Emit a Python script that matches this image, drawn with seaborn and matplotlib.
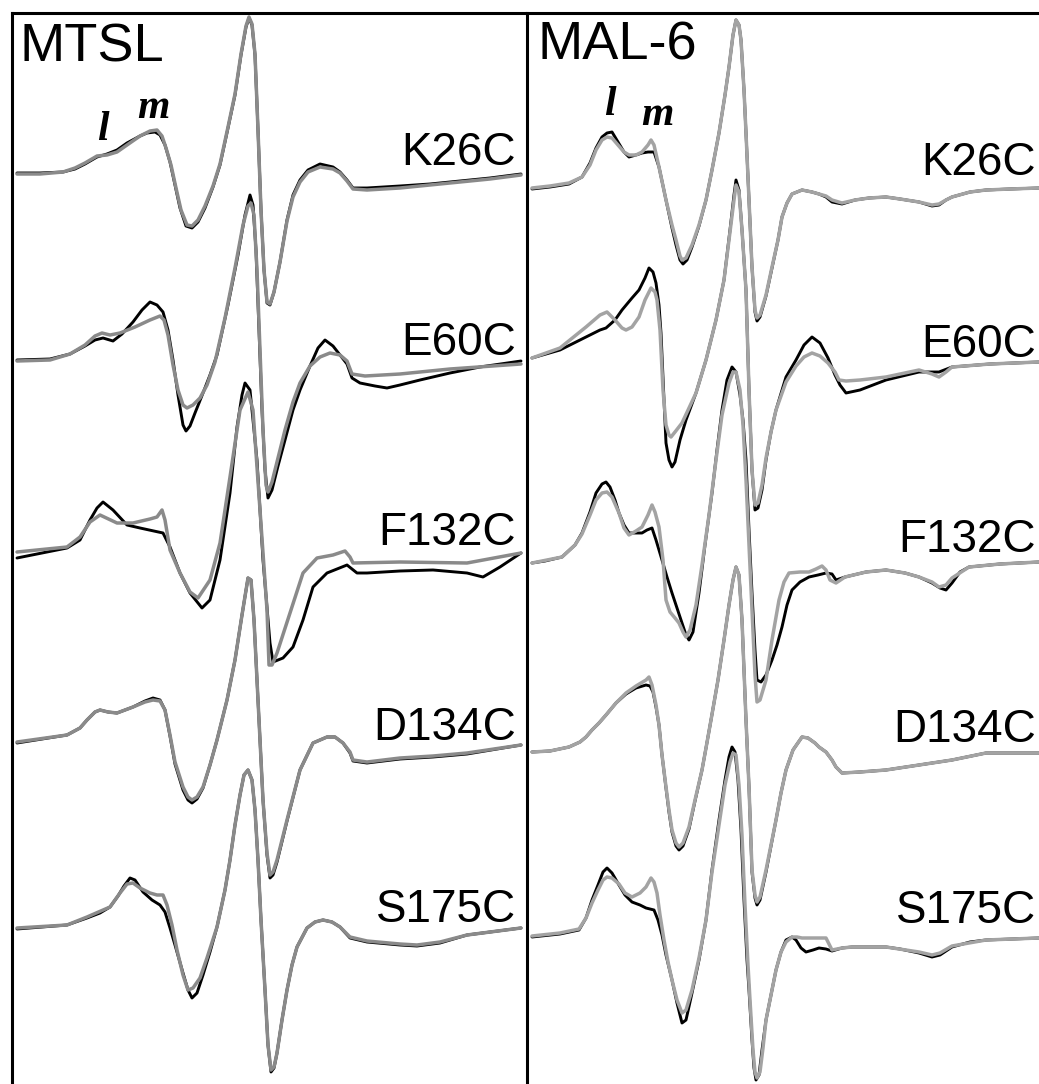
import matplotlib
matplotlib.use("Agg")
import matplotlib.pyplot as plt
import pandas as pd
import seaborn as sns

# ---------------------------------------------------------------------------
# EPR first-derivative spectra, (field, amplitude) pairs.
# "_a" = black trace, "_b" = grey trace.  Field in panel units, amplitude
# relative to each trace's own baseline.
# ---------------------------------------------------------------------------
mutants = ["K26C", "E60C", "F132C", "D134C", "S175C"]
panels = ["MTSL", "MAL-6"]

# ---------------- MTSL ----------------
mtsl_k26c_a = [(17,0),(40,0),(63,1),(75,4),(85,9),(97,16),(107,19),(117,23),(127,30),(140,37),(147,40),(155,41),(160,38),(165,28),(170,11),(175,-12),(180,-35),(186,-53),(192,-55),(198,-49),(205,-35),(213,-14),(220,8),(228,45),(235,78),(241,118),(246,146),(249,155),(252,148),(255,118),(258,43),(261,-37),(264,-97),(267,-130),(270,-132),(274,-119),(280,-89),(287,-47),(293,-22),(300,-7),(308,3),(320,9),(333,6),(340,1),(347,-7),(353,-15),(367,-15),(400,-13),(430,-11),(460,-8),(490,-5),(521,-1)]
mtsl_k26c_b = [(17,-1),(40,-1),(63,1),(75,5),(85,10),(97,17),(107,18),(117,21),(127,28),(140,37),(150,42),(157,43),(162,37),(166,25),(171,8),(176,-15),(181,-37),(187,-52),(192,-53),(198,-47),(205,-33),(213,-13),(220,9),(228,46),(235,79),(241,119),(246,147),(249,156),(252,149),(255,119),(258,43),(261,-37),(264,-97),(267,-129),(270,-131),(274,-119),(280,-89),(287,-48),(293,-24),(300,-9),(308,1),(320,6),(333,4),(340,0),(347,-8),(353,-16),(367,-17),(400,-15),(430,-12),(460,-9),(490,-6),(521,-2)]

mtsl_e60c_a = [(17,0),(50,1),(70,6),(85,14),(95,20),(103,22),(113,19),(122,26),(133,38),(142,50),(150,58),(157,55),(163,48),(168,30),(173,0),(178,-35),(183,-65),(186,-71),(190,-66),(195,-53),(203,-33),(210,-15),(217,5),(228,55),(238,105),(245,145),(250,165),(253,155),(256,110),(259,30),(262,-50),(265,-110),(268,-138),(272,-130),(278,-106),(285,-80),(293,-50),(300,-30),(310,-6),(318,12),(325,20),(333,14),(340,5),(347,-4),(352,-18),(360,-23),(375,-26),(387,-28),(400,-25),(420,-20),(450,-13),(480,-7),(521,-1)]
mtsl_e60c_b = [(17,-1),(50,0),(70,6),(85,15),(95,24),(102,27),(110,25),(120,27),(135,33),(150,40),(160,44),(164,40),(168,25),(173,-5),(178,-30),(183,-45),(187,-48),(193,-45),(200,-38),(207,-25),(215,-2),(225,42),(235,92),(243,135),(248,154),(251,157),(254,145),(257,90),(260,10),(263,-70),(266,-125),(268,-132),(272,-122),(278,-98),(285,-70),(293,-42),(300,-23),(310,-6),(320,3),(330,7),(340,5),(347,-1),(352,-14),(365,-16),(400,-14),(450,-9),(521,-4)]

mtsl_f132c_a = [(17,-1),(67,9),(80,17),(90,37),(97,49),(103,55),(113,47),(127,32),(140,29),(163,24),(170,10),(180,-16),(190,-36),(202,-51),(210,-43),(220,-3),(230,64),(237,130),(242,162),(245,174),(250,167),(257,97),(263,-3),(270,-86),(273,-105),(283,-101),(293,-90),(303,-63),(313,-30),(327,-16),(347,-8),(357,-16),(367,-16),(400,-14),(433,-13),(467,-16),(483,-20),(500,-10),(521,4)]
mtsl_f132c_b = [(17,5),(67,10),(80,20),(90,35),(100,42),(117,34),(133,34),(150,38),(157,40),(162,47),(165,37),(170,7),(180,-16),(190,-35),(198,-41),(210,-23),(220,14),(230,80),(240,147),(248,165),(253,147),(260,47),(267,-53),(269,-108),(272,-108),(277,-96),(290,-56),(303,-16),(317,-1),(333,2),(345,6),(350,0),(353,-6),(400,-5),(467,-6),(521,4)]

mtsl_d134c_a = [(17,-1),(67,7),(80,14),(87,22),(95,30),(100,32),(108,30),(117,29),(125,32),(133,35),(145,41),(153,44),(160,42),(165,32),(170,6),(175,-22),(183,-48),(188,-58),(192,-61),(197,-57),(203,-46),(210,-23),(217,2),(227,42),(235,82),(242,127),(248,164),(251,162),(254,122),(257,62),(260,2),(263,-58),(267,-113),(270,-136),(273,-133),(277,-120),(287,-79),(300,-28),(313,-1),(327,5),(335,5),(343,-1),(350,-11),(353,-19),(367,-21),(400,-17),(433,-15),(467,-12),(521,-3)]
mtsl_d134c_b = [(17,0),(67,7),(80,14),(87,22),(95,30),(100,32),(108,30),(117,29),(125,32),(133,35),(145,40),(153,42),(160,41),(165,32),(170,7),(175,-20),(183,-45),(188,-55),(192,-58),(197,-55),(203,-45),(210,-23),(217,2),(227,42),(235,82),(242,127),(248,164),(251,162),(254,122),(257,62),(260,2),(263,-58),(267,-111),(270,-133),(273,-130),(277,-118),(287,-78),(300,-28),(313,-1),(327,5),(335,5),(343,-1),(350,-10),(353,-18),(367,-20),(400,-16),(433,-14),(467,-11),(521,-3)]

mtsl_s175c_a = [(17,-1),(67,3),(87,10),(100,15),(110,21),(118,32),(124,42),(130,50),(135,48),(143,36),(152,28),(160,23),(165,16),(170,0),(175,-17),(183,-45),(188,-62),(192,-70),(197,-65),(203,-47),(210,-24),(217,1),(225,38),(230,68),(235,103),(240,133),(244,153),(248,158),(252,148),(255,118),(258,68),(261,8),(265,-62),(268,-117),(271,-144),(274,-140),(277,-125),(282,-92),(287,-62),(292,-37),(297,-19),(307,0),(315,6),(323,8),(332,6),(340,1),(350,-10),(367,-14),(400,-17),(417,-18),(440,-15),(467,-7),(521,0)]
mtsl_s175c_b = [(17,0),(67,3),(87,11),(110,21),(120,35),(127,44),(133,45),(140,40),(150,35),(157,33),(163,33),(167,23),(172,3),(177,-22),(183,-47),(188,-62),(193,-60),(200,-50),(207,-30),(217,1),(225,38),(230,68),(235,103),(240,133),(244,153),(248,158),(252,148),(255,118),(258,68),(261,8),(265,-62),(268,-117),(271,-142),(274,-139),(277,-125),(282,-92),(287,-62),(292,-37),(297,-19),(307,0),(315,6),(323,8),(332,6),(340,1),(350,-9),(367,-13),(400,-16),(417,-17),(440,-14),(467,-7),(521,0)]

# ---------------- MAL-6 ----------------
mal6_k26c_a = [(532,-1),(550,1),(569,4),(582,11),(590,25),(596,40),(602,51),(607,55),(612,56),(618,46),(624,36),(629,31),(636,33),(642,35),(648,36),(654,36),(659,21),(666,-12),(672,-40),(676,-57),(680,-72),(683,-76),(687,-72),(692,-59),(699,-38),(706,-12),(712,18),(719,55),(725,93),(729,121),(733,153),(736,168),(739,163),(741,148),(744,98),(746,55),(749,-12),(752,-79),(755,-124),(757,-133),(760,-129),(766,-108),(772,-80),(778,-52),(782,-29),(787,-15),(792,-6),(802,-2),(812,-4),(819,-6),(826,-9),(832,-14),(842,-16),(855,-12),(869,-10),(886,-9),(900,-11),(919,-14),(932,-18),(939,-17),(946,-12),(952,-9),(970,-4),(986,-2),(1010,-1),(1039,0)]
mal6_k26c_b = [(532,0),(550,2),(569,5),(582,11),(590,23),(596,38),(602,48),(607,51),(612,50),(618,43),(624,36),(629,33),(636,33),(642,36),(648,43),(651,48),(654,43),(659,21),(666,-12),(672,-37),(676,-52),(680,-68),(682,-72),(686,-70),(692,-57),(699,-37),(706,-12),(712,18),(719,55),(725,93),(729,121),(733,153),(736,168),(739,163),(741,148),(744,98),(746,55),(749,-12),(752,-79),(755,-122),(757,-130),(760,-127),(766,-107),(772,-79),(778,-52),(782,-29),(787,-15),(792,-6),(802,-2),(812,-4),(819,-6),(826,-8),(832,-12),(842,-15),(855,-12),(869,-10),(886,-9),(900,-11),(919,-14),(932,-17),(939,-16),(946,-12),(952,-9),(970,-4),(986,-2),(1010,-1),(1039,0)]

mal6_e60c_a = [(532,0),(560,8),(586,21),(600,28),(606,30),(615,38),(622,48),(632,60),(639,68),(645,80),(649,90),(653,86),(656,75),(659,53),(661,25),(664,-42),(666,-85),(669,-102),(672,-109),(675,-104),(680,-82),(686,-62),(696,-35),(706,-2),(716,38),(724,78),(730,128),(734,163),(736,178),(739,168),(742,128),(746,68),(749,-32),(752,-112),(755,-152),(758,-150),(762,-132),(766,-102),(771,-74),(776,-52),(786,-19),(796,-2),(804,13),(812,21),(820,15),(828,0),(835,-17),(840,-27),(846,-35),(860,-32),(886,-22),(919,-14),(939,-14),(952,-9),(990,-6),(1039,-4)]
mal6_e60c_b = [(532,0),(560,10),(586,31),(600,43),(607,46),(615,38),(622,30),(626,28),(632,31),(639,41),(645,58),(651,70),(655,66),(657,58),(660,28),(663,-32),(666,-67),(669,-77),(671,-79),(675,-74),(682,-65),(689,-50),(696,-35),(706,-2),(716,38),(724,78),(730,126),(734,158),(736,173),(739,166),(742,128),(746,68),(749,-32),(752,-112),(755,-147),(758,-145),(762,-127),(766,-100),(771,-74),(776,-52),(786,-24),(796,-8),(804,1),(812,5),(820,2),(828,-5),(835,-14),(839,-22),(846,-23),(860,-22),(886,-19),(919,-12),(932,-16),(939,-19),(946,-14),(952,-9),(990,-6),(1039,-4)]

mal6_f132c_a = [(532,-1),(545,1),(562,5),(575,17),(582,29),(590,50),(596,69),(602,78),(606,80),(610,75),(615,62),(619,49),(624,37),(629,29),(636,29),(642,29),(647,32),(652,34),(656,22),(662,2),(667,-15),(672,-31),(677,-46),(682,-61),(686,-73),(689,-78),(693,-70),(699,-31),(705,17),(712,69),(717,112),(722,152),(727,182),(732,195),(736,190),(740,167),(743,142),(746,102),(749,32),(752,-31),(755,-88),(757,-118),(761,-120),(766,-113),(772,-98),(777,-83),(782,-65),(787,-43),(792,-28),(800,-20),(809,-15),(818,-13),(826,-11),(832,-12),(836,-18),(845,-15),(866,-10),(886,-8),(905,-11),(919,-15),(932,-21),(940,-26),(946,-28),(952,-21),(960,-10),(969,-5),(1000,-2),(1039,0)]
mal6_f132c_b = [(532,-1),(562,5),(575,17),(582,28),(590,47),(596,62),(602,69),(607,70),(612,65),(619,49),(624,34),(629,27),(636,31),(642,35),(648,47),(652,57),(655,50),(659,35),(663,2),(666,-38),(670,-50),(675,-56),(679,-61),(683,-70),(686,-75),(690,-68),(696,-43),(702,-3),(709,47),(716,102),(722,147),(729,179),(733,190),(736,190),(740,172),(743,137),(746,82),(749,17),(752,-48),(755,-113),(757,-140),(760,-138),(766,-118),(772,-78),(779,-38),(784,-20),(789,-11),(800,-10),(809,-10),(816,-7),(822,-4),(826,-8),(830,-18),(836,-21),(845,-15),(866,-10),(886,-8),(905,-11),(919,-15),(932,-20),(939,-25),(946,-23),(952,-16),(969,-5),(1000,-2),(1039,0)]

mal6_d134c_a = [(532,-2),(550,-1),(569,3),(580,8),(586,13),(592,20),(599,27),(606,35),(616,47),(626,56),(636,62),(646,65),(650,64),(653,58),(656,43),(659,25),(662,-5),(666,-38),(669,-62),(672,-82),(676,-96),(679,-100),(683,-96),(689,-79),(695,-51),(702,-20),(706,2),(711,30),(718,70),(724,110),(729,145),(733,170),(736,183),(739,175),(742,130),(744,80),(746,30),(749,-37),(752,-122),(755,-148),(757,-155),(760,-150),(766,-122),(771,-96),(776,-70),(781,-43),(786,-20),(793,0),(802,13),(808,12),(815,7),(819,3),(826,-2),(832,-10),(836,-17),(842,-23),(860,-22),(886,-20),(919,-15),(952,-10),(986,-3),(1039,-3)]
mal6_d134c_b = [(532,-2),(550,-1),(569,3),(580,8),(586,13),(592,20),(599,27),(606,35),(616,47),(626,57),(636,64),(646,70),(649,73),(652,65),(656,45),(659,25),(662,-5),(666,-37),(669,-60),(672,-80),(676,-93),(679,-97),(683,-93),(689,-77),(695,-50),(702,-20),(706,2),(711,30),(718,70),(724,110),(729,145),(733,170),(736,183),(739,175),(742,130),(744,80),(746,30),(749,-37),(752,-120),(755,-145),(757,-152),(760,-147),(766,-120),(771,-95),(776,-70),(781,-43),(786,-20),(793,0),(802,13),(808,12),(815,7),(819,3),(826,-2),(832,-10),(836,-17),(842,-23),(860,-22),(886,-20),(919,-15),(952,-10),(986,-3),(1039,-3)]

mal6_s175c_a = [(532,-2),(560,1),(579,5),(586,17),(592,35),(598,50),(603,63),(607,67),(612,62),(619,50),(625,40),(632,33),(640,30),(646,27),(654,25),(658,15),(662,0),(666,-20),(672,-45),(677,-68),(682,-88),(686,-85),(692,-58),(699,-25),(706,15),(712,65),(719,115),(725,155),(729,178),(732,188),(735,183),(738,155),(741,105),(744,35),(747,-25),(749,-55),(752,-105),(754,-133),(756,-145),(759,-140),(762,-115),(766,-85),(771,-60),(776,-35),(781,-17),(786,-5),(792,-2),(796,-5),(801,-13),(806,-17),(813,-15),(819,-13),(826,-14),(832,-16),(842,-13),(852,-12),(886,-12),(900,-14),(919,-18),(932,-22),(940,-20),(952,-12),(970,-7),(986,-5),(1039,-3)]
mal6_s175c_b = [(532,-1),(560,2),(579,6),(586,17),(592,32),(598,45),(603,55),(607,58),(612,57),(619,51),(625,42),(632,38),(640,42),(646,48),(651,57),(654,53),(657,42),(660,20),(664,-5),(668,-27),(672,-45),(677,-65),(682,-78),(686,-75),(692,-55),(699,-23),(706,15),(712,63),(719,110),(725,150),(730,173),(733,182),(736,180),(739,150),(742,100),(745,30),(748,-30),(750,-65),(753,-115),(755,-137),(757,-143),(760,-137),(763,-113),(766,-85),(771,-60),(776,-35),(781,-17),(786,-7),(792,-2),(797,-2),(802,-3),(810,-3),(819,-3),(826,-3),(832,-15),(842,-13),(852,-12),(886,-12),(919,-17),(932,-20),(940,-18),(952,-11),(986,-5),(1039,-3)]

# Vertical stacking of the traces (baseline depth below the panel top)
stack_mtsl = [173, 360, 557, 742, 928]
stack_mal6 = [188, 358, 562, 750, 935]
label_rows_mtsl = [165, 355, 545, 740, 922]
label_rows_mal6 = [175, 357, 552, 742, 923]

series = {
    "MTSL": [(mtsl_k26c_a, mtsl_k26c_b), (mtsl_e60c_a, mtsl_e60c_b),
             (mtsl_f132c_a, mtsl_f132c_b), (mtsl_d134c_a, mtsl_d134c_b),
             (mtsl_s175c_a, mtsl_s175c_b)],
    "MAL-6": [(mal6_k26c_a, mal6_k26c_b), (mal6_e60c_a, mal6_e60c_b),
              (mal6_f132c_a, mal6_f132c_b), (mal6_d134c_a, mal6_d134c_b),
              (mal6_s175c_a, mal6_s175c_b)],
}
stacks = {"MTSL": stack_mtsl, "MAL-6": stack_mal6}
label_rows = {"MTSL": label_rows_mtsl, "MAL-6": label_rows_mal6}

rows = []
for panel, pairs in series.items():
    for mut, base, (tr_a, tr_b) in zip(mutants, stacks[panel], pairs):
        for trace, pts in (("a", tr_a), ("b", tr_b)):
            for i, (f, amp) in enumerate(pts):
                rows.append(dict(panel=panel, mutant=mut, trace=trace,
                                 order=i, field=f, signal=amp - base))
df = pd.DataFrame(rows)

sns.set_theme(style="white")
plt.rcParams["font.family"] = ["Liberation Sans", "DejaVu Sans"]
plt.rcParams["text.color"] = "black"

W, H = 1039, 1084
fig = plt.figure(figsize=(W / 100, H / 100), dpi=100)
top = 12.5
geom = {
    "MTSL": dict(left=11.5, right=525.0, title_x=20, title_row=62,
                 lbl_x=516, l_pos=(97, 140), m_pos=(137, 118),
                 grey="#8a8a8a"),
    "MAL-6": dict(left=527.0, right=1039.0, title_x=537, title_row=60,
                  lbl_x=1036, l_pos=(604, 115), m_pos=(641, 125),
                  grey="#a3a3a3"),
}
serif = ["Liberation Serif", "DejaVu Serif"]

for panel, g in geom.items():
    ax = fig.add_axes([g["left"] / W, 0, (g["right"] - g["left"]) / W,
                       (H - top) / H])
    sub = df[df.panel == panel]
    for mut in mutants:
        s = sub[sub.mutant == mut]
        sns.lineplot(data=s[s.trace == "a"], x="field", y="signal", sort=False,
                     estimator=None, color="black", lw=2.1, ax=ax,
                     solid_capstyle="round", solid_joinstyle="round")
        sns.lineplot(data=s[s.trace == "b"], x="field", y="signal", sort=False,
                     estimator=None, color=g["grey"], lw=2.5, ax=ax,
                     solid_capstyle="round", solid_joinstyle="round")
    ax.set_xlim(g["left"], g["right"])
    ax.set_ylim(-H, -top)
    ax.set_xlabel("")
    ax.set_ylabel("")
    ax.set_xticks([])
    ax.set_yticks([])
    for side in ("right", "bottom"):
        ax.spines[side].set_visible(False)
    for side in ("left", "top"):
        ax.spines[side].set_visible(True)
        ax.spines[side].set_color("black")
        ax.spines[side].set_linewidth(2.2)
    ax.patch.set_alpha(0)

    ax.text(g["title_x"], -g["title_row"], panel, fontsize=39,
            ha="left", va="baseline", color="black")
    for mut, r in zip(mutants, label_rows[panel]):
        ax.text(g["lbl_x"], -r, mut, fontsize=33, ha="right",
                va="baseline", color="black")
    ax.text(g["l_pos"][0], -g["l_pos"][1], "l", fontsize=30, family=serif,
            style="italic", weight="bold", ha="left", va="baseline",
            color="black")
    ax.text(g["m_pos"][0], -g["m_pos"][1], "m", fontsize=30, family=serif,
            style="italic", weight="bold", ha="left", va="baseline",
            color="black")

fig.savefig("out.png", dpi=100, facecolor="white")
